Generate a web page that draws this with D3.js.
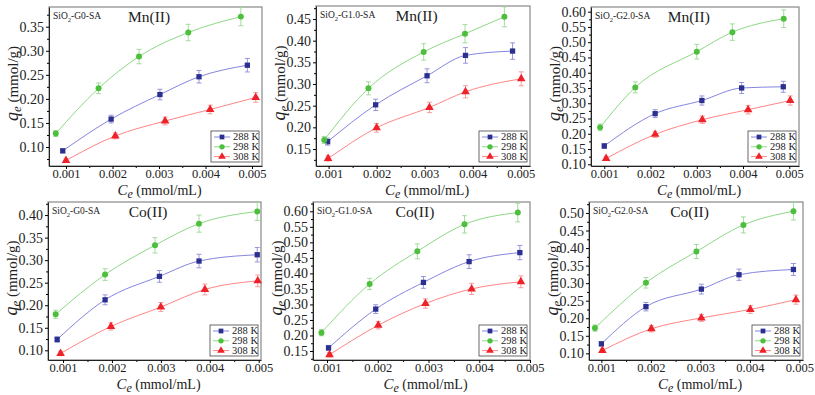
<!DOCTYPE html>
<html>
<head>
<meta charset="utf-8">
<script src="https://cdn.jsdelivr.net/npm/d3@7"></script>
<style>
  body { margin:0; background:#fff; }
</style>
</head>
<body>
<div id="chart"></div>
<script>
// series data: [Ce (mmol/mL), qe (mmol/g), error]
var mnG0_288 = [[0.00093,0.092,0.004],[0.00197,0.158,0.008],[0.00302,0.209,0.011],[0.00386,0.246,0.013],[0.00490,0.270,0.014]];
var mnG0_298 = [[0.00078,0.128,0.006],[0.00170,0.222,0.011],[0.00257,0.288,0.015],[0.00363,0.338,0.017],[0.00476,0.371,0.019]];
var mnG0_308 = [[0.00100,0.072,0.003],[0.00206,0.123,0.006],[0.00313,0.154,0.008],[0.00410,0.178,0.009],[0.00508,0.203,0.010]];

var mnG1_288 = [[0.00098,0.167,0.008],[0.00198,0.252,0.013],[0.00305,0.319,0.016],[0.00385,0.366,0.018],[0.00483,0.376,0.019]];
var mnG1_298 = [[0.00091,0.171,0.008],[0.00183,0.290,0.015],[0.00298,0.374,0.019],[0.00384,0.416,0.021],[0.00466,0.455,0.023]];
var mnG1_308 = [[0.00099,0.128,0.006],[0.00200,0.199,0.010],[0.00310,0.246,0.012],[0.00385,0.282,0.014],[0.00501,0.312,0.016]];

var mnG2_288 = [[0.00100,0.160,0.008],[0.00210,0.266,0.013],[0.00311,0.309,0.015],[0.00397,0.350,0.018],[0.00487,0.354,0.018]];
var mnG2_298 = [[0.00091,0.221,0.011],[0.00167,0.352,0.018],[0.00300,0.469,0.024],[0.00377,0.533,0.027],[0.00488,0.577,0.029]];
var mnG2_308 = [[0.00104,0.119,0.006],[0.00210,0.198,0.010],[0.00312,0.246,0.012],[0.00411,0.279,0.014],[0.00502,0.309,0.015]];

var coG0_288 = [[0.00088,0.124,0.006],[0.00186,0.212,0.011],[0.00297,0.264,0.013],[0.00378,0.298,0.015],[0.00497,0.312,0.016]];
var coG0_298 = [[0.00085,0.180,0.009],[0.00186,0.268,0.013],[0.00288,0.333,0.017],[0.00378,0.381,0.019],[0.00497,0.408,0.020]];
var coG0_308 = [[0.00095,0.093,0.005],[0.00198,0.153,0.008],[0.00300,0.196,0.010],[0.00390,0.235,0.012],[0.00498,0.254,0.013]];

var coG1_288 = [[0.00103,0.160,0.008],[0.00196,0.285,0.014],[0.00290,0.371,0.019],[0.00380,0.438,0.022],[0.00480,0.467,0.023]];
var coG1_298 = [[0.00089,0.209,0.010],[0.00184,0.366,0.018],[0.00278,0.471,0.024],[0.00371,0.558,0.028],[0.00476,0.596,0.030]];
var coG1_308 = [[0.00105,0.138,0.007],[0.00201,0.233,0.012],[0.00294,0.303,0.015],[0.00385,0.350,0.018],[0.00482,0.373,0.019]];

var coG2_288 = [[0.00100,0.127,0.006],[0.00190,0.233,0.012],[0.00302,0.283,0.014],[0.00378,0.324,0.016],[0.00488,0.339,0.017]];
var coG2_298 = [[0.00087,0.172,0.009],[0.00190,0.301,0.015],[0.00292,0.390,0.020],[0.00387,0.466,0.023],[0.00488,0.505,0.025]];
var coG2_308 = [[0.00102,0.108,0.005],[0.00201,0.170,0.009],[0.00302,0.201,0.010],[0.00401,0.225,0.011],[0.00493,0.253,0.013]];

var temps = ["288 K", "298 K", "308 K"];
var materials = ["G0", "G1.0", "G2.0", "G0", "G1.0", "G2.0"];
var metals = ["Mn(II)", "Mn(II)", "Mn(II)", "Co(II)", "Co(II)", "Co(II)"];
var xTicks = [0.001, 0.002, 0.003, 0.004, 0.005];
var yTicksMnG0 = [0.10, 0.15, 0.20, 0.25, 0.30, 0.35];
var yTicksMnG1 = [0.15, 0.20, 0.25, 0.30, 0.35, 0.40, 0.45];
var yTicksMnG2 = [0.10, 0.15, 0.20, 0.25, 0.30, 0.35, 0.40, 0.45, 0.50, 0.55, 0.60];
var yTicksCoG0 = [0.10, 0.15, 0.20, 0.25, 0.30, 0.35, 0.40];
var yTicksCoG1 = [0.15, 0.20, 0.25, 0.30, 0.35, 0.40, 0.45, 0.50, 0.55, 0.60];
var yTicksCoG2 = [0.10, 0.15, 0.20, 0.25, 0.30, 0.35, 0.40, 0.45, 0.50];

//panel layout: plot box [left, top, right, bottom] and axis ranges
var panels = [
  {series:[mnG0_288, mnG0_298, mnG0_308], yTicks:yTicksMnG0, box:[49,7,262,166],  xDom:[0.000634,0.005215], yDom:[0.0605,0.391]},
  {series:[mnG1_288, mnG1_298, mnG1_308], yTicks:yTicksMnG1, box:[316,6,530,166], xDom:[0.000738,0.005193], yDom:[0.1108,0.480]},
  {series:[mnG2_288, mnG2_298, mnG2_308], yTicks:yTicksMnG2, box:[591,7,799,166], xDom:[0.000713,0.00521],  yDom:[0.0944,0.6154]},
  {series:[coG0_288, coG0_298, coG0_308], yTicks:yTicksCoG0, box:[48,202,261,360], xDom:[0.000693,0.005047], yDom:[0.0785,0.429]},
  {series:[coG1_288, coG1_298, coG1_308], yTicks:yTicksCoG1, box:[313,202,530,360], xDom:[0.000724,0.00500], yDom:[0.1210,0.630]},
  {series:[coG2_288, coG2_298, coG2_308], yTicks:yTicksCoG2, box:[589,202,803,360], xDom:[0.00075,0.005073], yDom:[0.081,0.5313]}
];

var FONT = '"Liberation Serif", "Times New Roman", serif';
var markerColor = ["#2b2f8f", "#4cbf3c", "#ee2228"];
var lineColor = ["#8585e0", "#8ed886", "#ff8585"];
var errColor = ["#8c8cd6", "#9ad893", "#f49393"];
var shapes = [d3.symbolSquare, d3.symbolCircle, d3.symbolTriangle];
var shapeSize = [28, 28, 32];

var svg = d3.select("#chart").append("svg")
  .attr("width", 815).attr("height", 395);

panels.forEach(function(p, pi){
  var L = p.box[0], T = p.box[1], R = p.box[2], B = p.box[3];
  var x = d3.scaleLinear().domain(p.xDom).range([L, R]);
  var y = d3.scaleLinear().domain(p.yDom).range([B, T]);
  var g = svg.append("g");

  // frame
  g.append("rect").attr("x", L).attr("y", T).attr("width", R-L).attr("height", B-T)
    .attr("fill", "none").attr("stroke", "#888").attr("stroke-width", 1.2);

  // x axis
  var xMinor = d3.range(0.0005, p.xDom[1], 0.001).filter(function(v){ return v > p.xDom[0]; });
  g.append("g").attr("transform", "translate(0," + B + ")")
    .call(d3.axisBottom(x).tickValues(xMinor).tickSize(2).tickFormat(""))
    .call(function(a){ a.select(".domain").remove(); });
  var xa = g.append("g").attr("transform", "translate(0," + B + ")")
    .call(d3.axisBottom(x).tickValues(xTicks).tickSize(3).tickPadding(0).tickFormat(d3.format(".3f")).tickSizeOuter(0));
  xa.select(".domain").attr("stroke", "#222");
  xa.selectAll("text").attr("font-size", 12.5).attr("fill", "#222");

  // y axis
  var yMinor = d3.range(p.yTicks[0] - 0.025, p.yDom[1], 0.05).filter(function(v){ return v > p.yDom[0]; });
  g.append("g").attr("transform", "translate(" + L + ",0)")
    .call(d3.axisLeft(y).tickValues(yMinor).tickSize(2).tickFormat(""))
    .call(function(a){ a.select(".domain").remove(); });
  var ya = g.append("g").attr("transform", "translate(" + L + ",0)")
    .call(d3.axisLeft(y).tickValues(p.yTicks).tickSize(3).tickPadding(2).tickFormat(d3.format(".2f")).tickSizeOuter(0));
  ya.select(".domain").attr("stroke", "#222");
  ya.selectAll("text").attr("font-size", 14).attr("fill", "#222");

  // axis titles
  var xt = g.append("text").attr("x", (L + R) / 2 + 4).attr("y", B + 29)
    .attr("text-anchor", "middle").attr("fill", "#222");
  xt.append("tspan").attr("font-style", "italic").attr("font-size", 15).text("C");
  xt.append("tspan").attr("font-style", "italic").attr("font-size", 12).attr("dy", 2.5).text("e");
  xt.append("tspan").attr("font-size", 14).attr("dy", -2.5).text(" (mmol/mL)");

  var yt = g.append("text")
    .attr("transform", "translate(" + (L - 31) + "," + ((T + B) / 2 - 3) + ") rotate(-90)")
    .attr("text-anchor", "middle").attr("fill", "#222");
  yt.append("tspan").attr("font-style", "italic").attr("font-size", 18).text("q");
  yt.append("tspan").attr("font-style", "italic").attr("font-size", 13).attr("dy", 3).text("e");
  yt.append("tspan").attr("font-size", 15).attr("dy", -3).text(" (mmol/g)");

  // sample label and metal title
  var st = g.append("text").attr("x", L + 4).attr("y", T + 12).attr("font-size", 9.5).attr("fill", "#222");
  st.append("tspan").text("SiO");
  st.append("tspan").attr("font-size", 6.5).attr("dy", 2.5).text("2");
  st.append("tspan").attr("dy", -2.5).text("-" + materials[pi] + "-SA");
  g.append("text").attr("x", L + (R - L) * 0.47).attr("y", T + 15)
    .attr("text-anchor", "middle").attr("font-size", 15.5).attr("fill", "#222").text(metals[pi]);

  // series
  var line = d3.line().x(function(d){ return x(d[0]); }).y(function(d){ return y(d[1]); })
    .curve(d3.curveMonotoneX);

  p.series.forEach(function(s, si){
    g.append("path").datum(s).attr("d", line)
      .attr("fill", "none").attr("stroke", lineColor[si]).attr("stroke-width", 1);

    var eb = g.selectAll(".eb" + si).data(s).enter().append("g").attr("class", "eb" + si)
      .attr("stroke", errColor[si]).attr("stroke-width", 0.9);
    eb.append("line").attr("x1", function(d){ return x(d[0]); }).attr("x2", function(d){ return x(d[0]); })
      .attr("y1", function(d){ return y(d[1] - d[2]); }).attr("y2", function(d){ return y(d[1] + d[2]); });
    eb.append("line").attr("x1", function(d){ return x(d[0]) - 2.5; }).attr("x2", function(d){ return x(d[0]) + 2.5; })
      .attr("y1", function(d){ return y(d[1] + d[2]); }).attr("y2", function(d){ return y(d[1] + d[2]); });
    eb.append("line").attr("x1", function(d){ return x(d[0]) - 2.5; }).attr("x2", function(d){ return x(d[0]) + 2.5; })
      .attr("y1", function(d){ return y(d[1] - d[2]); }).attr("y2", function(d){ return y(d[1] - d[2]); });

    g.selectAll(".pt" + si).data(s).enter().append("path").attr("class", "pt" + si)
      .attr("transform", function(d){ return "translate(" + x(d[0]) + "," + y(d[1]) + ")"; })
      .attr("d", d3.symbol().type(shapes[si]).size(shapeSize[si]))
      .attr("fill", markerColor[si]);
  });

  // legend
  var lx = R - 51, ly = B - 35;
  var lg = g.append("g").attr("transform", "translate(" + lx + "," + ly + ")");
  lg.append("rect").attr("width", 48).attr("height", 31).attr("fill", "#fff")
    .attr("stroke", "#444").attr("stroke-width", 0.8);
  temps.forEach(function(t, i){
    var yy = 6 + i * 9.8;
    lg.append("line").attr("x1", 3).attr("x2", 19).attr("y1", yy).attr("y2", yy)
      .attr("stroke", lineColor[i]).attr("stroke-width", 1);
    lg.append("path").attr("transform", "translate(11," + yy + ")")
      .attr("d", d3.symbol().type(shapes[i]).size(shapeSize[i] * 0.8)).attr("fill", markerColor[i]);
    lg.append("text").attr("x", 22).attr("y", yy + 3.4).attr("font-size", 10.5).attr("fill", "#222").text(t);
  });
});

svg.selectAll("text").style("font-family", FONT);
</script>
</body>
</html>
